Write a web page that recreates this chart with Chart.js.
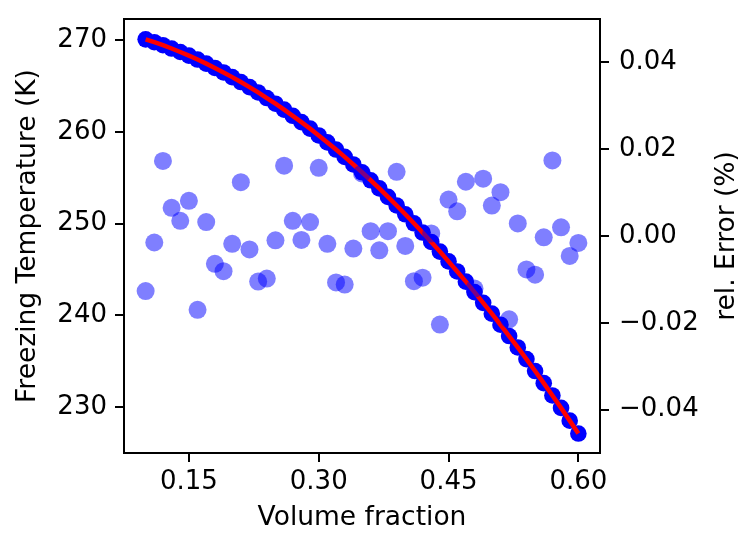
<!DOCTYPE html>
<html>
<head>
<meta charset="utf-8">
<script src="https://cdn.jsdelivr.net/npm/chart.js@4.4.1/dist/chart.umd.min.js"></script>
<style>
	html, body { margin: 0; padding: 0; background: #fff; }
	#wrap { width: 746px; height: 533px; }
</style>
</head>
<body>
<div id="wrap"><canvas id="freeze-chart" width="746" height="533"></canvas></div>
<script>
const volumeFraction = [
	0.10, 0.11, 0.12, 0.13, 0.14, 0.15, 0.16, 0.17, 0.18, 0.19,
	0.20, 0.21, 0.22, 0.23, 0.24, 0.25, 0.26, 0.27, 0.28, 0.29,
	0.30, 0.31, 0.32, 0.33, 0.34, 0.35, 0.36, 0.37, 0.38, 0.39,
	0.40, 0.41, 0.42, 0.43, 0.44, 0.45, 0.46, 0.47, 0.48, 0.49,
	0.50, 0.51, 0.52, 0.53, 0.54, 0.55, 0.56, 0.57, 0.58, 0.59, 0.60,
];
const freezingTemp = [
	270.10, 269.79, 269.46, 269.10, 268.72, 268.32, 267.90, 267.45, 266.98, 266.49,
	265.98, 265.44, 264.89, 264.31, 263.70, 263.08, 262.43, 261.76, 261.07, 260.36,
	259.62, 258.86, 258.08, 257.28, 256.45, 255.60, 254.73, 253.84, 252.92, 251.98,
	251.02, 250.04, 249.03, 248.00, 246.95, 245.88, 244.78, 243.67, 242.53, 241.36,
	240.18, 238.97, 237.74, 236.49, 235.22, 233.92, 232.60, 231.26, 229.90, 228.51, 227.10,
];
const relError = [
	-0.0127, -0.0015, 0.0173, 0.0065, 0.0035, 0.0081, -0.0170, 0.0032, -0.0064, -0.0081,
	-0.0018, 0.0124, -0.0031, -0.0105, -0.0098, -0.0010, 0.0162, 0.0035, -0.0009, 0.0032,
	0.0157, -0.0018, -0.0107, -0.0112, -0.0029, 0.0144, 0.0011, -0.0033, 0.0011, 0.0148,
	-0.0023, -0.0104, -0.0096, 0.0006, -0.0204, 0.0084, 0.0057, 0.0125, -0.0121, 0.0132,
	0.0070, 0.0101, -0.0192, 0.0029, -0.0077, -0.0089, -0.0003, 0.0174, 0.0020, -0.0046, -0.0016,
];
const xTicks = [0.15, 0.30, 0.45, 0.60];
const tempTicks = [230, 240, 250, 260, 270];
const errTicks = [-0.04, -0.02, 0.00, 0.02, 0.04];

const FONT = "DejaVu Sans";
const tickFont = { family: FONT, size: 26 };

const tempPoints = volumeFraction.map((x, i) => ({ x: x, y: freezingTemp[i] }));
const errPoints = volumeFraction.map((x, i) => ({ x: x, y: relError[i] }));

function fixTicks(values) {
	return (scale) => {
		scale.ticks = values.map((v) => ({ value: v }));
	};
}

// fixed box sizes so the plot area sits where it does in the original
function fixSize(w, h) {
	return (scale) => {
		if (w) scale.width = w;
		if (h) scale.height = h;
		scale.paddingTop = 0;
		scale.paddingBottom = 0;
		scale.paddingLeft = 0;
		scale.paddingRight = 0;
	};
}

const frame = {
	id: "frame",
	afterDraw(chart) {
		const { ctx, chartArea: a } = chart;
		ctx.save();
		ctx.strokeStyle = "#000";
		ctx.lineWidth = 2;
		ctx.strokeRect(a.left, a.top, a.right - a.left, a.bottom - a.top);
		ctx.fillStyle = "#000";
		ctx.font = "26.5px '" + FONT + "'";
		ctx.textAlign = "center";
		ctx.textBaseline = "middle";
		const midY = (a.top + a.bottom) / 2;
		ctx.fillText("Volume fraction", (a.left + a.right) / 2, 518);
		ctx.save();
		ctx.translate(28, midY);
		ctx.rotate(-Math.PI / 2);
		ctx.fillText("Freezing Temperature (K)", 0, 0);
		ctx.restore();
		ctx.save();
		ctx.translate(727, midY);
		ctx.rotate(-Math.PI / 2);
		ctx.fillText("rel. Error (%)", 0, 0);
		ctx.restore();
		ctx.restore();
	},
};

const ctx = document.getElementById("freeze-chart").getContext("2d");
const myChart = new Chart(ctx, {
	type: "scatter",
	data: {
		datasets: [
			{
				label: "rel. Error",
				data: errPoints,
				yAxisID: "yErr",
				backgroundColor: "rgba(0, 0, 255, 0.5)",
				borderWidth: 0,
				pointRadius: 9,
				order: 0,
			},
			{
				label: "fit",
				data: tempPoints,
				yAxisID: "yTemp",
				showLine: true,
				borderColor: "#ff0000",
				borderWidth: 4.5,
				pointRadius: 0,
				order: 1,
			},
			{
				label: "Freezing temperature",
				data: tempPoints,
				yAxisID: "yTemp",
				backgroundColor: "#0000ff",
				borderWidth: 0,
				pointRadius: 8.3,
				order: 2,
			},
		],
	},
	options: {
		responsive: false,
		animation: false,
		events: [],
		layout: {
			padding: { left: 0, right: 0, top: 19, bottom: 0 },
		},
		scales: {
			x: {
				type: "linear",
				position: "bottom",
				min: 0.075,
				max: 0.625,
				afterBuildTicks: fixTicks(xTicks),
				afterFit: fixSize(0, 80),
				grid: { drawOnChartArea: false, color: "#000", lineWidth: 2, tickLength: 9 },
				border: { display: false },
				ticks: {
					color: "#000",
					font: tickFont,
					padding: 5,
					maxRotation: 0,
					callback: (v) => v.toFixed(2),
				},
			},
			yTemp: {
				type: "linear",
				position: "left",
				min: 224.98,
				max: 272.32,
				afterBuildTicks: fixTicks(tempTicks),
				afterFit: fixSize(124, 0),
				grid: { drawOnChartArea: false, color: "#000", lineWidth: 2, tickLength: 9 },
				border: { display: false },
				ticks: {
					color: "#000",
					font: tickFont,
					padding: 8,
					callback: (v) => String(v),
				},
			},
			yErr: {
				type: "linear",
				position: "right",
				min: -0.05,
				max: 0.05,
				afterBuildTicks: fixTicks(errTicks),
				afterFit: fixSize(146, 0),
				grid: { drawOnChartArea: false, color: "#000", lineWidth: 2, tickLength: 9 },
				border: { display: false },
				ticks: {
					color: "#000",
					font: tickFont,
					padding: 10,
					callback: (v) => (v < 0 ? "\u2212" : "") + Math.abs(v).toFixed(2),
				},
			},
		},
		plugins: {
			legend: { display: false },
			tooltip: { enabled: false },
		},
	},
	plugins: [frame],
});
</script>
</body>
</html>
